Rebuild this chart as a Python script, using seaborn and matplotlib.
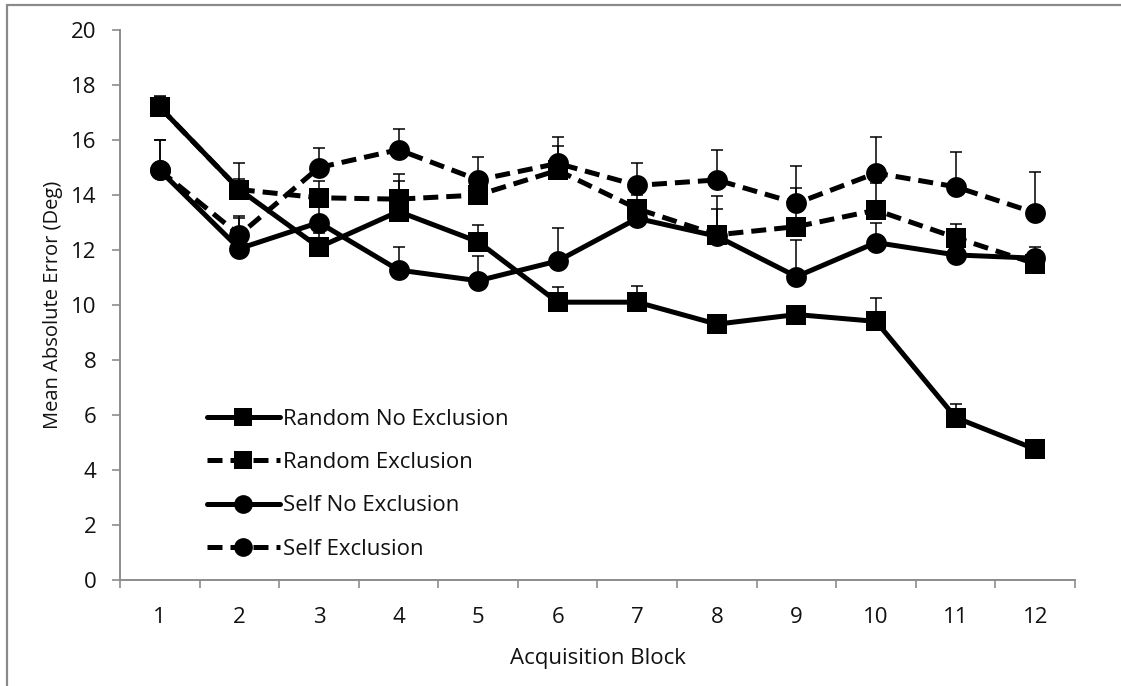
import numpy as np
import pandas as pd
import matplotlib
matplotlib.use("Agg")
import matplotlib.pyplot as plt
import seaborn as sns
from matplotlib.lines import Line2D

# ── Data ──────────────────────────────────────────────────────────────────────
blocks = list(range(1, 13))

series_names = ["Random No Exclusion", "Random Exclusion",
                "Self No Exclusion", "Self Exclusion"]

rne_mean = [17.2, 14.2, 12.1, 13.4, 12.3, 10.1, 10.1, 9.3, 9.65, 9.4, 5.9, 4.75]
rne_err  = [0.35, 0.95, 0.5, 1.1, 0.6, 0.55, 0.6, 0.3, 0.3, 0.85, 0.5, 0.2]

re_mean  = [17.2, 14.2, 13.9, 13.85, 14.0, 14.9, 13.5, 12.55, 12.85, 13.45, 12.45, 11.5]
re_err   = [0.4, 0.4, 0.6, 0.9, 0.5, 0.9, 0.5, 1.4, 1.4, 1.0, 0.5, 0.4]

sne_mean = [14.9, 12.05, 13.0, 11.27, 10.88, 11.6, 13.15, 12.5, 11.03, 12.27, 11.82, 11.7]
sne_err  = [1.1, 1.1, 0.8, 0.85, 0.9, 1.2, 0.4, 1.0, 1.35, 0.7, 0.6, 0.4]

se_mean  = [14.9, 12.55, 15.0, 15.65, 14.55, 15.15, 14.35, 14.55, 13.7, 14.8, 14.3, 13.35]
se_err   = [1.1, 0.7, 0.7, 0.75, 0.85, 0.95, 0.8, 1.1, 1.35, 1.3, 1.25, 1.5]

means = [rne_mean, re_mean, sne_mean, se_mean]
errs = [rne_err, re_err, sne_err, se_err]
markers = ["s", "s", "o", "o"]
dashed = [False, True, False, True]

# ── Style ──────────────────────────────────────────────────────────────────────
sns.set_theme(style="white")
plt.rcParams["font.family"] = ["Open Sans", "DejaVu Sans"]
axis_gray = "#8c8c8c"
text_col = "#111111"
fs = 16

fig = plt.figure(figsize=(11.21, 6.86), dpi=100)
ax = fig.add_axes([0.107, 0.155, 0.852, 0.801])

for name, m, e, mk, dsh in zip(series_names, means, errs, markers, dashed):
    df = pd.DataFrame({"Block": blocks, "MAE": m})
    ax.errorbar(blocks, m, yerr=[np.zeros(len(e)), e], fmt="none",
                ecolor="black", elinewidth=1.1, capsize=4.5, capthick=1.1,
                zorder=1.5)
    ls = (0, (3, 1.6)) if dsh else "-"
    sns.lineplot(data=df, x="Block", y="MAE", ax=ax, color="black",
                 marker=mk, markersize=15, markeredgewidth=0,
                 linewidth=3.6, linestyle=ls, label=name)

# ── Axes ───────────────────────────────────────────────────────────────────────
ax.set_xlim(0.5, 12.5)
ax.set_ylim(0, 20)
ax.set_yticks(np.arange(0, 21, 2))
ax.set_xticks(np.arange(0.5, 13, 1))
ax.set_xticklabels([])
ax.set_xticks(blocks, minor=True)
ax.set_xticklabels([str(b) for b in blocks], minor=True)
ax.tick_params(axis="x", which="major", direction="out", length=6,
               color=axis_gray, width=1.2)
ax.tick_params(axis="x", which="minor", length=0, pad=20,
               labelsize=fs, labelcolor=text_col)
ax.tick_params(axis="y", direction="out", length=6, color=axis_gray,
               width=1.2, labelsize=fs, labelcolor=text_col, pad=11)
ax.tick_params(left=True, bottom=True, which="major")

for side in ["top", "right"]:
    ax.spines[side].set_visible(False)
for side in ["left", "bottom"]:
    ax.spines[side].set_color(axis_gray)
    ax.spines[side].set_linewidth(1.4)

ax.set_xlabel("Acquisition Block", fontsize=fs, color=text_col, labelpad=14)
ax.set_ylabel("Mean Absolute Error (Deg)", fontsize=fs - 1.5, color=text_col,
              labelpad=6)

ax.legend(loc="lower left", bbox_to_anchor=(0.07, 0.0), frameon=False,
          fontsize=fs, labelspacing=1.0, handlelength=3.3,
          handletextpad=0.15, markerscale=0.9, labelcolor=text_col)

# chart-area frame (left and top edges visible in the reference crop)
frame_kw = dict(color="#8a8a8a", linewidth=1.6, transform=fig.transFigure)
fig.add_artist(Line2D([7 / 1121, 7 / 1121], [0, 1 - 5 / 686], **frame_kw))
fig.add_artist(Line2D([7 / 1121, 1], [1 - 5 / 686, 1 - 5 / 686], **frame_kw))

fig.savefig("out.png", dpi=100)
